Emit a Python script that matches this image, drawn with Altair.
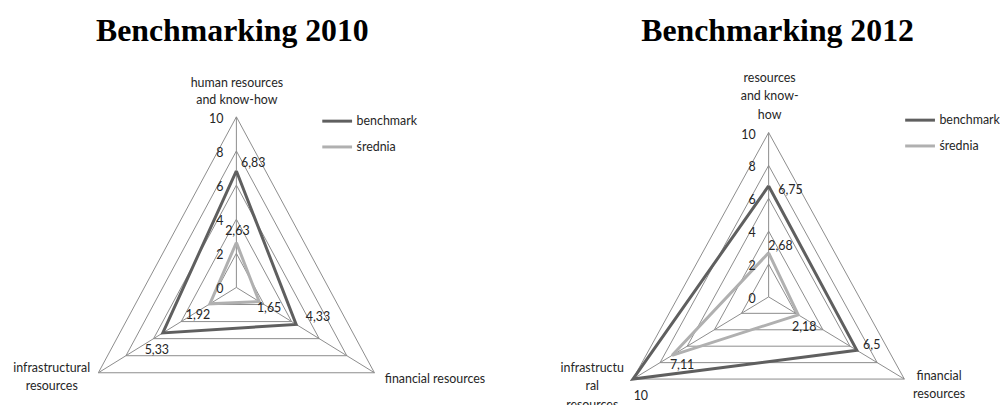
import altair as alt
import pandas as pd

# ---------------- data ----------------
series_names = ["benchmark", "średnia"]
axis_keys = ["human", "financial", "infrastructural"]  # clockwise from the top
benchmark_2010 = [6.83, 4.33, 5.33]
srednia_2010 = [2.63, 1.65, 1.92]
benchmark_2012 = [6.75, 6.5, 10]
srednia_2012 = [2.68, 2.18, 7.11]
grid_levels = [2, 4, 6, 8, 10]
tick_values = [0, 2, 4, 6, 8, 10]
axis_texts_2010 = ["human resources\nand know-how", "financial resources", "infrastructural\nresources"]
axis_texts_2012 = ["resources\nand know-\nhow", "financial\nresources", "infrastructu\nral\nresources"]
titles = ["Benchmarking 2010", "Benchmarking 2012"]

# ---------------- style / layout ----------------
FONT = "Lato"
TXT = "#262626"
GRID = "#8c8c8c"
COLORS = ["#5f5f5f", "#b0b0b0"]
PAD_TOP = 6
TITLE_OFFSET = 8
Y0 = 8 + PAD_TOP + 32 + TITLE_OFFSET  # page y of the plot areas' top
PAGE_BOTTOM = 415

# label nudges in px (dx, dy) per series, per axis
nudges_2010 = {"benchmark": [(17, -8), (22, -7), (-6, 17)], "średnia": [(1, -12), (10, 7), (-12, 11)]}
nudges_2012 = {"benchmark": [(22, 4), (15, -5), (8, 17)], "średnia": [(12, -7), (6, 12), (10, 10)]}

# category label nudges: position of the first text line relative to the axis end
layout_2010 = dict(x0=8, w=500, cx=238, cy=287, kx=16.05, ky=17.18, title_dx=-24,
                   legend_x=315, legend_y=103, line_h=17.5,
                   cat_nudge=[(0.5, -34), (61, 6), (-47, -4.5)])
layout_2012 = dict(x0=508, w=492, cx=774, cy=296.5, kx=15.78, ky=16.55, title_dx=29,
                   legend_x=402, legend_y=102, line_h=18.5,
                   cat_nudge=[(1, -55), (35, -3), (-41, -11)])

ANG = "datum.k * 2 * PI / 3"


def panel(title, bench, avg, axis_texts, nudges, L):
    H = PAGE_BOTTOM - Y0
    kx, ky = L["kx"], L["ky"]
    xmin = -(L["cx"] - L["x0"]) / kx
    xmax = xmin + L["w"] / kx
    ymax = (L["cy"] - Y0) / ky
    ymin = ymax - H / ky
    xs = alt.X("x:Q", scale=alt.Scale(domain=[xmin, xmax], nice=False, zero=False), axis=None)
    ys = alt.Y("y:Q", scale=alt.Scale(domain=[ymin, ymax], nice=False, zero=False), axis=None)

    # grid polygons
    grid_rows = []
    for lv in grid_levels:
        for i in range(4):
            grid_rows.append({"level": lv, "k": i % 3, "value": lv, "order": i})
    grid = alt.Chart(pd.DataFrame(grid_rows)).transform_calculate(
        x=f"datum.value * sin({ANG})", y=f"datum.value * cos({ANG})"
    ).mark_line(color=GRID, strokeWidth=1).encode(x=xs, y=ys, detail="level:N", order="order:Q")

    spoke_rows = []
    for k in range(3):
        spoke_rows.append({"k": k, "value": 0, "order": 0})
        spoke_rows.append({"k": k, "value": max(grid_levels), "order": 1})
    spokes = alt.Chart(pd.DataFrame(spoke_rows)).transform_calculate(
        x=f"datum.value * sin({ANG})", y=f"datum.value * cos({ANG})"
    ).mark_line(color=GRID, strokeWidth=1).encode(x=xs, y=ys, detail="k:N", order="order:Q")

    # series polygons
    s_rows, lab_rows = [], []
    for s, vals in zip(series_names, [bench, avg]):
        for i in range(4):
            k = i % 3
            s_rows.append({"series": s, "k": k, "value": vals[k], "order": i})
        for k in range(3):
            dx, dy = nudges[s][k]
            lab_rows.append({"series": s, "k": k, "value": vals[k],
                             "text": f"{vals[k]:g}".replace(".", ","), "ndx": dx, "ndy": dy})
    color = alt.Color("series:N", scale=alt.Scale(domain=series_names, range=COLORS),
                      legend=alt.Legend(title=None, orient="none", legendX=L["legend_x"],
                                        legendY=L["legend_y"] - Y0, symbolType="stroke",
                                        symbolStrokeWidth=3, symbolSize=900, labelFont=FONT,
                                        labelFontSize=12.5, labelColor=TXT, rowPadding=3,
                                        labelOffset=3, padding=0))
    lines = alt.Chart(pd.DataFrame(s_rows)).transform_calculate(
        x=f"datum.value * sin({ANG})", y=f"datum.value * cos({ANG})"
    ).mark_line(strokeWidth=3, strokeJoin="miter").encode(
        x=xs, y=ys, color=color, detail="series:N", order="order:Q")

    labels = alt.Chart(pd.DataFrame(lab_rows)).transform_calculate(
        x=f"datum.value * sin({ANG}) + datum.ndx / {kx}",
        y=f"datum.value * cos({ANG}) - datum.ndy / {ky}",
    ).mark_text(font=FONT, fontSize=12.5, color=TXT, align="center", baseline="middle").encode(
        x=xs, y=ys, text="text:N")

    ticks = alt.Chart(pd.DataFrame({"t": tick_values, "text": [str(t) for t in tick_values]})).transform_calculate(
        x="0", y="datum.t"
    ).mark_text(font=FONT, fontSize=12.5, color=TXT, align="right", baseline="middle", dx=-13, dy=2).encode(
        x=xs, y=ys, text="text:N")

    cat_rows = []
    for k in range(3):
        dx, dy = L["cat_nudge"][k]
        cat_rows.append({"k": k, "value": max(grid_levels), "text": axis_texts[k], "ndx": dx, "ndy": dy})
    cats = alt.Chart(pd.DataFrame(cat_rows)).transform_calculate(
        x=f"datum.value * sin({ANG}) + datum.ndx / {kx}",
        y=f"datum.value * cos({ANG}) - datum.ndy / {ky}",
    ).mark_text(font=FONT, fontSize=12.5, color=TXT, align="center", baseline="middle",
                lineBreak="\n", lineHeight=L["line_h"]).encode(x=xs, y=ys, text="text:N")

    return alt.layer(grid, spokes, lines, labels, ticks, cats).properties(
        width=L["w"], height=H,
        title=alt.TitleParams(title, font="Liberation Serif", fontSize=32, fontWeight="bold",
                              color="black", anchor="middle", dx=L["title_dx"], offset=TITLE_OFFSET),
    )


p1 = panel(titles[0], benchmark_2010, srednia_2010, axis_texts_2010, nudges_2010, layout_2010)
p2 = panel(titles[1], benchmark_2012, srednia_2012, axis_texts_2012, nudges_2012, layout_2012)

chart = alt.hconcat(p1, p2, spacing=0).resolve_scale(color="independent").configure_view(
    stroke=None).properties(padding={"top": PAD_TOP, "left": 0, "right": 0, "bottom": 0})

chart.save("out.html", embed_options={"renderer": "svg", "actions": False})
